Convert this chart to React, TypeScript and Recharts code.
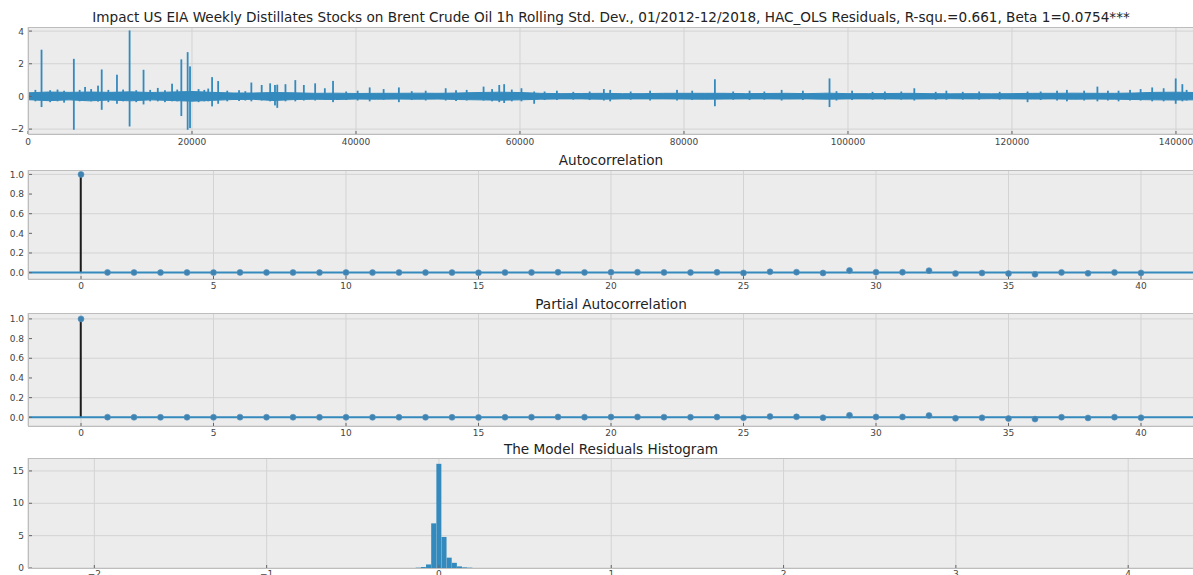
import React from "react";
import {
  Area,
  Bar,
  CartesianGrid,
  ComposedChart,
  ReferenceLine,
  Scatter,
  XAxis,
  YAxis,
} from "recharts";

// ---- data ----

// residual series: dense core band [x, low, high]
const bandPoints: [number, number, number][] = [
  [0, -0.2, 0.22], [2500, -0.26, 0.27], [5000, -0.21, 0.25], [7500, -0.27, 0.27],
  [10000, -0.22, 0.25], [12500, -0.27, 0.28], [15000, -0.21, 0.24], [17500, -0.25, 0.27],
  [20000, -0.29, 0.3], [22500, -0.24, 0.25], [25000, -0.19, 0.21], [27500, -0.18, 0.21],
  [30000, -0.25, 0.24], [32500, -0.19, 0.22], [35000, -0.17, 0.19], [37500, -0.19, 0.2],
  [40000, -0.16, 0.18], [42500, -0.17, 0.19], [45000, -0.16, 0.19], [47500, -0.17, 0.2],
  [50000, -0.16, 0.19], [52500, -0.19, 0.21], [55000, -0.21, 0.24], [57500, -0.23, 0.26],
  [60000, -0.21, 0.24], [62500, -0.17, 0.19], [65000, -0.15, 0.17], [67500, -0.15, 0.18],
  [70000, -0.17, 0.19], [72500, -0.15, 0.17], [75000, -0.15, 0.17], [77500, -0.15, 0.19],
  [80000, -0.16, 0.19], [82500, -0.17, 0.19], [85000, -0.16, 0.19], [87500, -0.15, 0.17],
  [90000, -0.15, 0.18], [92500, -0.16, 0.19], [95000, -0.15, 0.17], [97500, -0.17, 0.2],
  [100000, -0.15, 0.17], [102500, -0.15, 0.17], [105000, -0.15, 0.18], [107500, -0.16, 0.19],
  [110000, -0.15, 0.17], [112500, -0.14, 0.16], [115000, -0.15, 0.17], [117500, -0.14, 0.16],
  [120000, -0.15, 0.17], [122500, -0.16, 0.19], [125000, -0.15, 0.19], [127500, -0.17, 0.2],
  [130000, -0.16, 0.19], [132500, -0.17, 0.19], [135000, -0.19, 0.21], [137500, -0.21, 0.25],
  [140000, -0.22, 0.26], [142200, -0.21, 0.24],
];

// residual series: spikes [x, low, high]
const spikePoints: [number, number, number][] = [
  [900, -0.3, 0.4], [1650, -0.65, 2.86], [2700, -0.35, 0.38], [3600, -0.3, 0.42],
  [4400, -0.38, 0.35], [5590, -2.04, 2.3], [6300, -0.3, 0.4], [6960, -0.25, 0.58],
  [7700, -0.3, 0.45], [8540, -0.32, 0.66], [8990, -0.82, 1.65], [9800, -0.35, 0.4],
  [10850, -0.45, 1.33], [11600, -0.3, 0.42], [12390, -1.84, 4.04], [13200, -0.35, 0.38],
  [14090, -0.49, 1.63], [14900, -0.3, 0.4], [15830, -0.3, 0.52], [16700, -0.35, 0.38],
  [17570, -0.3, 0.78], [18200, -0.3, 0.42], [18700, -1.2, 2.27], [19470, -2.04, 2.71],
  [19760, -1.94, 1.84], [20800, -0.35, 0.45], [21500, -0.3, 0.4], [21980, -0.3, 0.48],
  [22450, -0.61, 1.18], [23190, -0.45, 0.94], [24300, -0.3, 0.35], [25740, -0.28, 0.38],
  [26500, -0.25, 0.32], [27240, -0.3, 0.85], [28500, -0.25, 0.7], [29530, -0.3, 0.8],
  [30120, -0.55, 0.7], [30400, -0.7, 0.72], [31400, -0.3, 0.75], [32600, -0.3, 1.0],
  [33640, -0.25, 0.7], [35020, -0.25, 0.8], [36200, -0.2, 0.5], [37200, -0.35, 0.95],
  [38800, -0.22, 0.3], [40200, -0.25, 0.35], [41670, -0.3, 0.55], [43370, -0.2, 0.45],
  [45230, -0.35, 0.55], [46800, -0.22, 0.32], [48500, -0.25, 0.35], [50940, -0.25, 0.5],
  [52200, -0.28, 0.38], [53500, -0.25, 0.4], [55560, -0.25, 0.6], [56600, -0.3, 0.45],
  [57470, -0.35, 0.7], [58070, -0.4, 0.75], [59000, -0.3, 0.42], [60180, -0.3, 0.5],
  [61730, -0.45, 0.3], [63000, -0.22, 0.3], [64500, -0.22, 0.35], [66500, -0.2, 0.28],
  [68500, -0.22, 0.3], [70230, -0.25, 0.45], [71000, -0.3, 0.4], [73500, -0.2, 0.3],
  [75870, -0.25, 0.35], [79150, -0.25, 0.4], [81000, -0.22, 0.35], [83770, -0.6, 1.05],
  [86000, -0.2, 0.3], [88000, -0.22, 0.35], [89800, -0.2, 0.3], [91910, -0.25, 0.4],
  [94500, -0.22, 0.35], [97750, -0.65, 1.1], [98600, -0.25, 0.32], [100500, -0.22, 0.35],
  [103000, -0.2, 0.28], [104500, -0.2, 0.3], [106500, -0.2, 0.3], [108090, -0.25, 0.5],
  [110700, -0.2, 0.28], [112000, -0.2, 0.35], [114000, -0.2, 0.28], [116000, -0.2, 0.3],
  [118500, -0.2, 0.28], [121900, -0.35, 0.3], [123500, -0.22, 0.3], [125500, -0.25, 0.35],
  [126700, -0.3, 0.4], [128800, -0.25, 0.35], [130420, -0.3, 0.6], [131700, -0.25, 0.35],
  [133000, -0.3, 0.35], [134400, -0.25, 0.4], [135690, -0.25, 0.45], [137100, -0.3, 0.55],
  [138500, -0.3, 0.5], [139970, -0.45, 1.1], [140780, -0.3, 0.75], [141300, -0.25, 0.4],
];

const seriesXTicks = [0, 20000, 40000, 60000, 80000, 100000, 120000, 140000];
const seriesYTicks = [-2, 0, 2, 4];

// lags 0..40
const acfValues = [
  1.0, 0.002, 0.001, 0.0, 0.001, 0.0, 0.002, 0.001, 0.001, 0.0, 0.001,
  0.0, 0.001, 0.0, 0.0, -0.001, 0.001, 0.002, 0.004, 0.002, 0.003,
  0.004, 0.002, 0.001, 0.003, -0.003, 0.008, 0.005, -0.004, 0.022, 0.004,
  0.004, 0.02, -0.01, -0.004, -0.01, -0.017, 0.002, -0.007, 0.002, -0.003,
];
const pacfValues = [
  1.0, 0.002, 0.001, 0.0, 0.001, 0.0, 0.002, 0.001, 0.001, 0.0, 0.001,
  0.0, 0.001, 0.0, 0.0, -0.001, 0.001, 0.002, 0.004, 0.002, 0.003,
  0.004, 0.002, 0.001, 0.003, -0.003, 0.008, 0.005, -0.004, 0.02, 0.004,
  0.004, 0.018, -0.01, -0.005, -0.012, -0.018, 0.001, -0.006, 0.002, -0.004,
];
const lagTicks = [0, 5, 10, 15, 20, 25, 30, 35, 40];
const corrTicks = [0, 0.2, 0.4, 0.6, 0.8, 1.0];

const histBins = [-0.12, -0.09, -0.06, -0.03, 0.0, 0.03, 0.06, 0.09, 0.12, 0.15, 0.18];
const histDensity = [0.05, 0.15, 0.55, 6.9, 16.1, 4.8, 1.6, 0.8, 0.25, 0.1, 0.05];
const histXTicks = [-2, -1, 0, 1, 2, 3, 4];
const histYTicks = [0, 5, 10, 15];

// ---- look ----
const FONT = "'DejaVu Sans', sans-serif";
const BLUE = "#348ABD";
const BG = "#ececec";
const GRID = "#d3d3d3";
const FRAME = "#bdbdbd";
const TICK = "#444444";
const W = 1196;
const LEFT = 28;
const RIGHT = 1194;

const tickStyle = { fontSize: 9, fill: TICK, fontFamily: FONT };
const minus = (v: number) => (v < 0 ? `\u2212${-v}` : `${v}`);

// merge band + spike rows by x
const seriesRows = (() => {
  const m = new Map<number, { x: number; band?: [number, number]; spike?: [number, number] }>();
  bandPoints.forEach(([x, lo, hi]) => m.set(x, { ...(m.get(x) ?? { x }), band: [lo, hi] }));
  spikePoints.forEach(([x, lo, hi]) => m.set(x, { ...(m.get(x) ?? { x }), spike: [lo, hi] }));
  return [...m.values()].sort((a, b) => a.x - b.x);
})();

const acfRows = acfValues.map((v, i) => ({ lag: i, value: v }));
const pacfRows = pacfValues.map((v, i) => ({ lag: i, value: v }));
const histRows = histBins.map((b, i) => ({ bin: b, density: histDensity[i] }));

type Box = { top: number; h: number };
const P1: Box = { top: 27, h: 107 };
const P2: Box = { top: 170, h: 109 };
const P3: Box = { top: 313, h: 113 };
const P4: Box = { top: 458, h: 110 };

// vertical segment centred on the bar's x
function SpikeShape(p: any) {
  if (p.height == null || p.width == null) return null;
  const cx = p.x + p.width / 2;
  const y = Math.min(p.y, p.y + p.height);
  return <rect x={cx - 0.9} y={y} width={1.8} height={Math.abs(p.height)} fill={BLUE} />;
}

function Title({ y, text }: { y: number; text: string }) {
  return (
    <div
      style={{
        position: "absolute",
        top: y,
        left: LEFT,
        width: 1166,
        textAlign: "center",
        fontFamily: FONT,
        fontSize: 13.6,
        lineHeight: "16px",
        color: "#222",
        whiteSpace: "nowrap",
      }}
    >
      {text}
    </div>
  );
}

function Frame({ box, children }: { box: Box; children: React.ReactNode }) {
  return (
    <>
      <div style={{ position: "absolute", top: box.top, left: 0 }}>{children}</div>
      <div
        style={{
          position: "absolute",
          top: box.top,
          left: LEFT,
          width: RIGHT - LEFT + 1,
          height: box.h + 1,
          border: `1px solid ${FRAME}`,
          boxSizing: "border-box",
          pointerEvents: "none",
        }}
      />
    </>
  );
}

const chartMargin = { top: 0, right: W - RIGHT, left: 0, bottom: 0 };

function CorrPanel({ rows, box, domain }: { rows: { lag: number; value: number }[]; box: Box; domain: [number, number] }) {
  return (
    <Frame box={box}>
      <ComposedChart width={W} height={box.h + 22} data={rows} margin={chartMargin}>
        <CartesianGrid fill={BG} stroke={GRID} />
        <XAxis
          dataKey="lag"
          type="number"
          domain={[-2, 42]}
          ticks={lagTicks}
          height={22}
          tick={tickStyle}
          tickSize={-3}
          tickMargin={7}
          axisLine={false}
          tickLine={{ stroke: "#666" }}
          allowDataOverflow
        />
        <YAxis
          type="number"
          domain={domain}
          ticks={corrTicks}
          width={LEFT}
          tick={tickStyle}
          tickSize={-4}
          tickMargin={8}
          axisLine={false}
          tickLine={{ stroke: "#666" }}
          tickFormatter={(v: number) => v.toFixed(1)}
          allowDataOverflow
        />
        <Bar dataKey="value" fill="#1c1c1c" barSize={2} isAnimationActive={false} />
        <ReferenceLine y={0} stroke={BLUE} strokeWidth={2} />
        <Scatter
          dataKey="value"
          isAnimationActive={false}
          shape={(p: any) => <circle cx={p.cx} cy={p.cy} r={3} fill="#3f83b3" stroke="#5a93bb" strokeWidth={0.6} />}
        />
      </ComposedChart>
    </Frame>
  );
}

export default function App() {
  return (
    <div
      style={{
        position: "absolute",
        left: 0,
        top: 0,
        width: 1193,
        height: 575,
        overflow: "hidden",
        background: "#ffffff",
      }}
    >
      <Title
        y={9}
        text="Impact US EIA Weekly Distillates Stocks on Brent Crude Oil 1h Rolling Std. Dev., 01/2012-12/2018, HAC_OLS Residuals, R-squ.=0.661, Beta 1=0.0754***"
      />
      <Frame box={P1}>
        <ComposedChart width={W} height={P1.h + 22} data={seriesRows} margin={chartMargin}>
          <CartesianGrid fill={BG} stroke={GRID} />
          <XAxis
            dataKey="x"
            type="number"
            domain={[0, 142200]}
            ticks={seriesXTicks}
            height={22}
            tick={tickStyle}
            tickSize={-3}
            tickMargin={8}
            axisLine={false}
            tickLine={{ stroke: "#666" }}
            allowDataOverflow
          />
          <YAxis
            type="number"
            domain={[-2.3, 4.25]}
            ticks={seriesYTicks}
            width={LEFT}
            tick={tickStyle}
            tickSize={-4}
            tickMargin={8}
            axisLine={false}
            tickLine={{ stroke: "#666" }}
            tickFormatter={minus}
            allowDataOverflow
          />
          <Area
            dataKey="band"
            type="linear"
            stroke={BLUE}
            strokeWidth={1}
            fill={BLUE}
            fillOpacity={1}
            connectNulls
            isAnimationActive={false}
          />
          <Bar dataKey="spike" fill={BLUE} shape={SpikeShape} isAnimationActive={false} />
        </ComposedChart>
      </Frame>

      <Title y={152} text="Autocorrelation" />
      <CorrPanel rows={acfRows} box={P2} domain={[-0.065, 1.045]} />

      <Title y={296} text="Partial Autocorrelation" />
      <CorrPanel rows={pacfRows} box={P3} domain={[-0.088, 1.06]} />

      <Title y={441} text="The Model Residuals Histogram" />
      <Frame box={P4}>
        <ComposedChart width={W} height={P4.h + 22} data={histRows} margin={chartMargin}>
          <CartesianGrid fill={BG} stroke={GRID} />
          <XAxis
            dataKey="bin"
            type="number"
            domain={[-2.385, 4.382]}
            ticks={histXTicks}
            height={22}
            tick={tickStyle}
            tickSize={-3}
            tickMargin={6}
            axisLine={false}
            tickLine={{ stroke: "#666" }}
            tickFormatter={minus}
            allowDataOverflow
          />
          <YAxis
            type="number"
            domain={[0, 17]}
            ticks={histYTicks}
            width={LEFT}
            tick={tickStyle}
            tickSize={-4}
            tickMargin={8}
            axisLine={false}
            tickLine={{ stroke: "#666" }}
            allowDataOverflow
          />
          <Bar dataKey="density" fill={BLUE} barSize={5} isAnimationActive={false} />
        </ComposedChart>
      </Frame>
    </div>
  );
}
